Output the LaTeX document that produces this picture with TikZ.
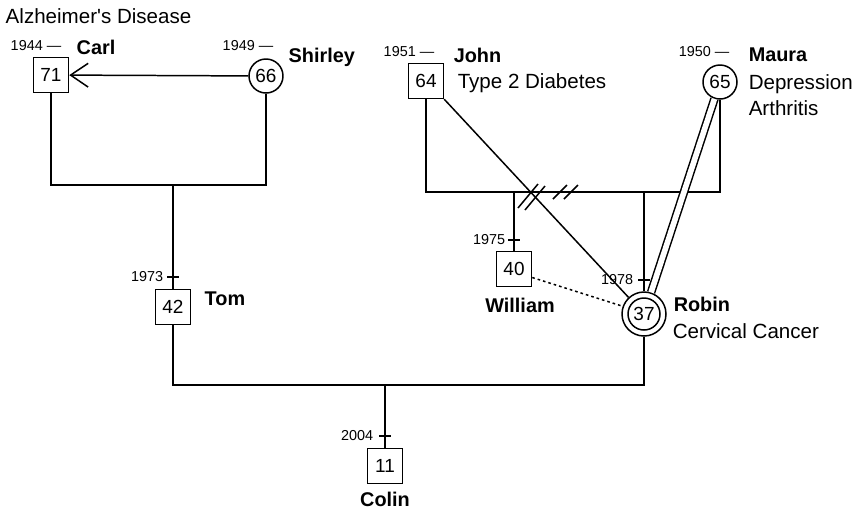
\documentclass[tikz,border=0pt]{standalone}
\usepackage{fontspec}
\setmainfont{Liberation Sans}
\usetikzlibrary{arrows.meta}
\begin{document}
\begin{tikzpicture}[x=0.02cm,y=-0.02cm,line width=0.85pt,
  male/.style={draw,rectangle,minimum size=0.7cm,inner sep=0pt,font=\fontsize{10.8}{12}\selectfont},
  female/.style={draw,circle,minimum size=0.68cm,inner sep=0pt,font=\fontsize{10.8}{12}\selectfont},
  pname/.style={font=\fontsize{11.3}{13}\selectfont\bfseries,inner sep=0pt},
  note/.style={font=\fontsize{11.7}{14}\selectfont,inner sep=0pt},
  year/.style={font=\fontsize{8.2}{9}\selectfont,inner sep=0pt}]
\useasboundingbox (0,0) rectangle (856,512);
\node[male] (carl) at (51,75) {71};
\node[female] (shirley) at (266,76) {66};
\node[male] (john) at (426,81) {64};
\node[female] (maura) at (720,82) {65};
\node[male] (tom) at (173,307) {42};
\node[male] (william) at (514,269) {40};
\node[female,minimum size=0.64cm] (robin) at (644,314) {37};
\node[draw,circle,minimum size=0.88cm,inner sep=0pt] (ring) at (robin) {};
\node[male] (colin) at (385,466) {11};
\coordinate (cs) at (173,185);
\coordinate (wtop) at (514,192);
\coordinate (rtop) at (644,192);
\coordinate (tr) at (385,385);
\draw (carl) |- (cs) -| (shirley);
\draw (cs) -- (tom);
\draw (john) |- (rtop) -| (maura);
\draw (wtop) -- (william);
\draw (rtop) -- (ring);
\draw (tom) |- (tr) -| (ring);
\draw (tr) -- (colin);
\draw[-{Straight Barb[length=10pt,width=13.5pt]}] (shirley) -- (carl);
\draw (john.south east) -- (ring);
\draw[double,double distance=3.2pt] (maura) -- (ring);
\draw[dash pattern=on 1.5pt off 1.7pt] (william.-25) -- (ring.160);
\foreach \x/\y in {528/196,535/198} \draw (\x,\y) +(-10,12) -- +(10,-12);
\foreach \x in {560,571} \draw (\x,192) +(-7,7) -- +(7,-7);
\foreach \x/\y in {173/277,514/240,644/280,385/436} \draw (\x,\y) +(-6,0) -- +(6,0);
\node[year,anchor=west] (ycarl) at (10,46) {1944 \textemdash};
\node[year,anchor=west] (yshirley) at (222,46) {1949 \textemdash};
\node[year,anchor=west] (yjohn) at (383,52) {1951 \textemdash};
\node[year,anchor=west] (ymaura) at (678,52) {1950 \textemdash};
\node[year,anchor=east] (ytom) at (164,277) {1973};
\node[year,anchor=east] (ywilliam) at (506,240) {1975};
\node[year,anchor=east] (yrobin) at (634,280) {1978};
\node[year,anchor=east] (ycolin) at (374,436) {2004};
\node[note,anchor=west] (alz) at (5,16) {Alzheimer\textquotesingle s Disease};
\node[pname,anchor=west] (carlname) at (76,47) {Carl};
\node[pname,anchor=west] (shirleyname) at (288,57) {Shirley};
\node[pname,anchor=west] (johnname) at (453,55) {John};
\node[note,anchor=west] (johnnote) at (457,83) {Type 2 Diabetes};
\node[pname,anchor=west] (mauraname) at (748,55) {Maura};
\node[note,anchor=west] (mauranote) at (748,84) {Depression};
\node[note,anchor=west] (mauranotetwo) at (748,108) {Arthritis};
\node[pname,anchor=west] (tomname) at (204,299) {Tom};
\node[pname] (williamname) at (520,305) {William};
\node[pname,anchor=west] (robinname) at (673,304) {Robin};
\node[note,anchor=west] (robinnote) at (672,331) {Cervical Cancer};
\node[pname] (colinname) at (385,499) {Colin};
\end{tikzpicture}
\end{document}
